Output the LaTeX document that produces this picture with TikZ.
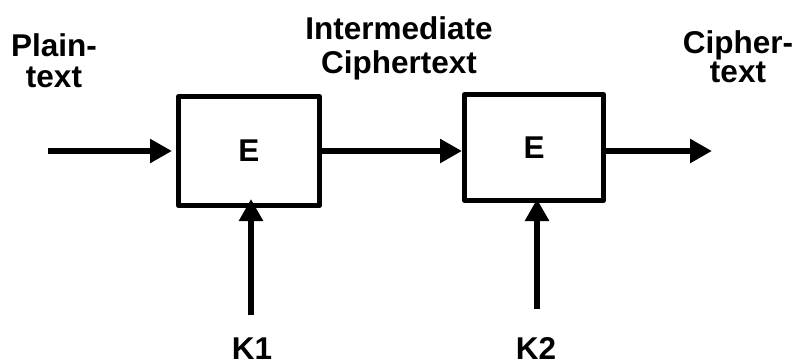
\documentclass[tikz,border=0pt]{standalone}
\usepackage{fontspec}
\setmainfont{Liberation Sans}
\usetikzlibrary{arrows.meta}
\begin{document}
\begin{tikzpicture}[x=1pt,y=-1pt,
  box/.style={draw, line width=5pt, line join=round, inner sep=0pt,
    font=\fontsize{31.5}{34}\selectfont\bfseries},
  conn/.style={line width=5.5pt, -{Triangle[length=22pt,width=23pt]}},
  lbl/.style={font=\fontsize{31.5}{#1}\selectfont\bfseries, align=center, inner sep=0pt, anchor=base}]
\useasboundingbox (0,0) rectangle (798,364);
\node[box, minimum width=141pt, minimum height=109pt] (b1) at (249,151) {E};
\node[box, minimum width=139pt, minimum height=106pt] (b2) at (534,147.5) {E};
\coordinate (in) at (48,151);
\coordinate (out) at (712,151);
\coordinate (k1s) at (251,315);
\coordinate (k2s) at (537,309);
\draw[conn, shorten >=4pt] (in) -- (b1.west);
\draw[conn] (b1.east) -- (b2.west |- b1.east);
\draw[conn] (b2.east |- out) -- (out);
\draw[conn, shorten >=-9pt] (k1s) -- (k1s |- b1.south);
\draw[conn, shorten >=-4pt] (k2s) -- (k2s |- b2.south);
\node[lbl=31] (pt) at (54,87) {Plain-\\text};
\node[lbl=34] (ic) at (399,73) {Intermediate\\Ciphertext};
\node[lbl=27] (ct) at (738,82) {Cipher-\\text};
\node[lbl=34] (k1) at (252,359) {K1};
\node[lbl=34] (k2) at (536,359) {K2};
\end{tikzpicture}
\end{document}
